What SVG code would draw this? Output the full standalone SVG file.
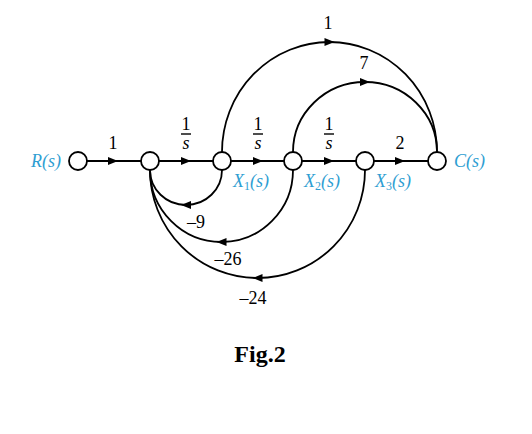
<svg xmlns="http://www.w3.org/2000/svg" width="532" height="434" viewBox="0 0 532 434">
<defs>
<marker id="ah" viewBox="0 0 10 8" refX="5" refY="4" markerWidth="11" markerHeight="8" markerUnits="userSpaceOnUse" orient="auto">
<path d="M0,0 L10,4 L0,8 Z" fill="#000"/>
</marker>
</defs>
<style>
.br{fill:none;stroke:#000;stroke-width:1.8;marker-mid:url(#ah)}
.nd{fill:#fff;stroke:#000;stroke-width:1.8}
.g{font-family:"Liberation Serif",serif;font-size:18px;fill:#000;text-anchor:middle}
.s{font-family:"Liberation Serif",serif;font-size:18px;fill:#2e9ed2;font-style:italic}
.sub{font-size:12px;font-style:normal}
.it{font-style:italic}
.bar{stroke:#000;stroke-width:1.4}
</style>
<rect width="532" height="434" fill="#fff"/>
<g id="connectors">
<path class="br" d="M87,161 L113,161 L141,161"/>
<path class="br" d="M159,161 L186,161 L213,161"/>
<path class="br" d="M231,161 L258,161 L284,161"/>
<path class="br" d="M302,161 L329,161 L356,161"/>
<path class="br" d="M374,161 L400,161 L428,161"/>
<path class="br" d="M222,152 A107.5,110 0 0 1 329.5,42 A107.5,110 0 0 1 437,152"/>
<path class="br" d="M293,152 A72,70 0 0 1 365,82 A72,70 0 0 1 437,152"/>
<path class="br" d="M222,170 A36,35 0 0 1 186,205 A36,35 0 0 1 150,170"/>
<path class="br" d="M293,170 A71.5,72 0 0 1 221.5,242 A71.5,72 0 0 1 150,170"/>
<path class="br" d="M365,170 A107.5,108 0 0 1 257.5,278 A107.5,108 0 0 1 150,170"/>
</g>
<g id="gains">
<text class="g" x="113" y="149">1</text>
<text class="g" x="186" y="130">1</text><line class="bar" x1="181" y1="134" x2="191" y2="134"/><text class="g it" x="186" y="149">s</text>
<text class="g" x="258" y="130">1</text><line class="bar" x1="253" y1="134" x2="263" y2="134"/><text class="g it" x="258" y="149">s</text>
<text class="g" x="329" y="130">1</text><line class="bar" x1="324" y1="134" x2="334" y2="134"/><text class="g it" x="329" y="149">s</text>
<text class="g" x="400" y="149">2</text>
<text class="g" x="328" y="29">1</text>
<text class="g" x="364" y="69">7</text>
<text class="g" x="196" y="228">–9</text>
<text class="g" x="228" y="265">–26</text>
<text class="g" x="253" y="304">–24</text>
</g>
<g id="nR"><circle class="nd" cx="78" cy="161" r="9"/><text class="s" x="61" y="167" text-anchor="end">R(s)</text></g>
<g id="n1"><circle class="nd" cx="150" cy="161" r="9"/></g>
<g id="nX1"><circle class="nd" cx="222" cy="161" r="9"/><text class="s" x="233" y="187">X<tspan class="sub" dy="3">1</tspan><tspan dy="-3">(s)</tspan></text></g>
<g id="nX2"><circle class="nd" cx="293" cy="161" r="9"/><text class="s" x="304" y="187">X<tspan class="sub" dy="3">2</tspan><tspan dy="-3">(s)</tspan></text></g>
<g id="nX3"><circle class="nd" cx="365" cy="161" r="9"/><text class="s" x="375" y="187">X<tspan class="sub" dy="3">3</tspan><tspan dy="-3">(s)</tspan></text></g>
<g id="nC"><circle class="nd" cx="437" cy="161" r="9"/><text class="s" x="454" y="167">C(s)</text></g>
<text x="260" y="362" font-family="'Liberation Serif',serif" font-size="24" font-weight="bold" text-anchor="middle">Fig.2</text>
</svg>
